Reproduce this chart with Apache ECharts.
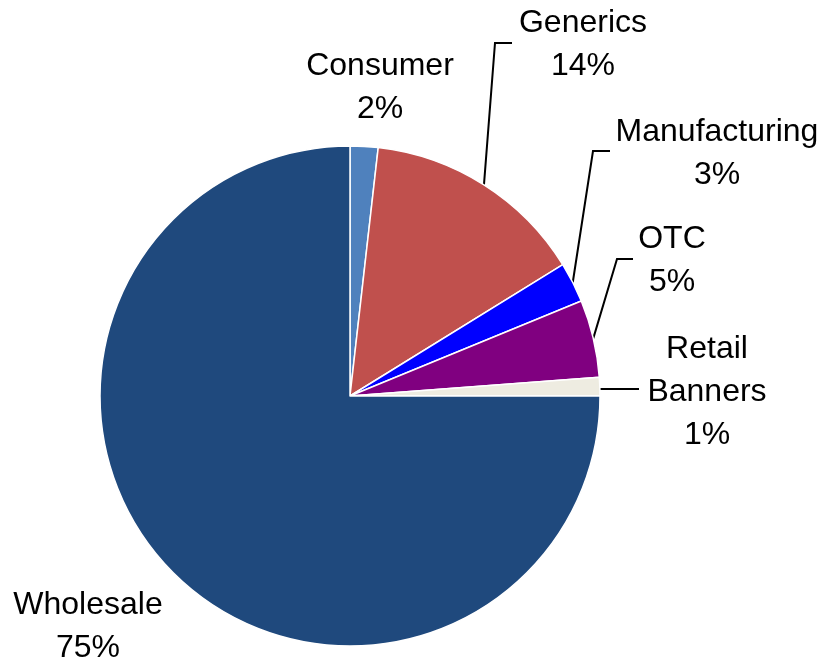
<!DOCTYPE html>
<html>
<head>
<meta charset="utf-8">
<script src="https://cdn.jsdelivr.net/npm/echarts@6/dist/echarts.min.js"></script>
<style>
  html, body { margin:0; padding:0; background:#fff; }
  #chart { width:827px; height:668px; }
</style>
</head>
<body>
<div id="chart"></div>
<script>
// segment names + shares (percent)
var categories = ['Consumer', 'Generics', 'Manufacturing', 'OTC', 'Retail Banners', 'Wholesale'];
var shares = [1.8, 14.4, 2.6, 5.0, 1.2, 75.0];
var colors = ['#4F81BD', '#C0504D', '#0000FF', '#800080', '#EEECE1', '#1F497D'];

// where each label sits (centre) and the leader line bends, null = no line
var labelPos = [[380, 88], [583, 45], [717, 154], [672, 261], [707, 392], [88, 627]];
var elbows = [null, [[495, 43], [512, 43]], [[593, 151], [610, 151]], [[617, 259], [633, 259]], [[603, 389], [639, 389]], null];

var pieData = [];
for (var i = 0; i < categories.length; i++) {
    pieData.push({
        name: categories[i],
        value: shares[i],
        itemStyle: { color: colors[i] },
        labelLine: { show: elbows[i] != null }
    });
}

var myChart = echarts.init(document.getElementById('chart'));
myChart.setOption({
    animation: false,
    series: [{
        type: 'pie',
        center: [350, 396],
        radius: 250,
        startAngle: 90,
        clockwise: true,
        avoidLabelOverlap: false,
        itemStyle: { borderColor: '#fff', borderWidth: 1.5 },
        label: {
            show: true,
            position: 'outside',
            color: '#000',
            fontFamily: 'Liberation Sans, Arial, sans-serif',
            fontSize: 32,
            lineHeight: 43,
            align: 'center',
            formatter: function (p) {
                return p.name.replace(' ', '\n') + '\n' + Math.round(p.percent) + '%';
            }
        },
        labelLine: {
            show: true,
            length: 20,
            length2: 20,
            lineStyle: { color: '#000', width: 2 }
        },
        labelLayout: function (params) {
            var idx = params.dataIndex;
            var res = {
                x: labelPos[idx][0],
                y: labelPos[idx][1],
                align: 'center',
                verticalAlign: 'middle'
            };
            if (elbows[idx] && params.labelLinePoints) {
                var p0 = params.labelLinePoints[0];
                // retail line is flat in the original
                if (idx === 4) p0 = [p0[0], elbows[idx][0][1]];
                res.labelLinePoints = [p0, elbows[idx][0], elbows[idx][1]];
            }
            return res;
        },
        data: pieData
    }]
});
</script>
</body>
</html>
